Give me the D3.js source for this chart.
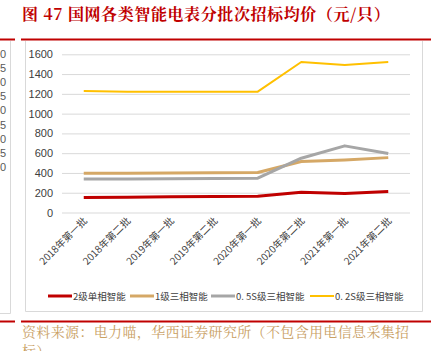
<!DOCTYPE html>
<html>
<head>
<meta charset="utf-8">
<script src="https://cdn.jsdelivr.net/npm/d3@7"></script>
<style>
  body { margin: 0; background: #fff; }
  svg { display: block; }
</style>
</head>
<body>
<div id="chart"></div>
<script>
// Données
const batches = ["2018年第一批", "2018年第二批", "2019年第一批", "2019年第二批",
                 "2020年第一批", "2020年第二批", "2021年第一批", "2021年第二批"];
const single2 = [152, 155, 160, 163, 165, 206, 192, 212];     // 2级单相智能
const three1 = [398, 398, 400, 402, 404, 515, 532, 555];      // 1级三相智能
const three05S = [338, 340, 342, 345, 347, 549, 674, 596];    // 0.5S级三相智能
const three02S = [1230, 1222, 1222, 1222, 1222, 1522, 1492, 1522]; // 0.2S级三相智能
const yTicks = [0, 200, 400, 600, 800, 1000, 1200, 1400, 1600];
// chiffres visibles du panneau voisin (coupé à gauche)
const leftPanelTicks = ["0", "5", "0", "5", "0", "5", "0", "5", "0"];

const series = [
    { label: "2级单相智能", values: single2, col: "#C00000", w: 3 },
    { label: "1级三相智能", values: three1, col: "#D5A866", w: 3 },
    { label: "0. 5S级三相智能", values: three05S, col: "#A6A6A6", w: 3 },
    { label: "0. 2S级三相智能", values: three02S, col: "#FFC000", w: 2 }
];

const W = 436, H = 351;
const svg = d3.select("#chart").append("svg")
    .attr("width", W).attr("height", H)
    .attr("viewBox", [0, 0, W, H]);

const cjk = "'Noto Sans CJK SC', 'Noto Sans', sans-serif";
const red = "#C00000";

// titre
svg.append("text")
    .attr("x", 22).attr("y", 20)
    .attr("fill", red)
    .attr("font-family", "'Noto Serif CJK SC', " + cjk)
    .attr("font-weight", "bold")
    .attr("font-size", "16px")
    .attr("letter-spacing", "0.6px")
    .text("图 47 国网各类智能电表分批次招标均价（元/只）");

// traits rouges haut et bas
[39.5, 321.5].forEach(y => {
    svg.append("line").attr("x1", 0).attr("x2", 15).attr("y1", y).attr("y2", y)
        .attr("stroke", red).attr("stroke-width", 2);
    svg.append("line").attr("x1", 21).attr("x2", 431).attr("y1", y).attr("y2", y)
        .attr("stroke", red).attr("stroke-width", 2);
});

// panneau gauche coupé
svg.append("path")
    .attr("d", "M10.5,41 V313.5 H0")
    .attr("fill", "none").attr("stroke", "#D9D9D9");
svg.selectAll(".lp")
    .data(leftPanelTicks)
    .join("text")
    .attr("class", "lp")
    .attr("x", 0)
    .attr("y", (d, i) => 58 + i * 14.1)
    .attr("font-family", "'Liberation Sans', sans-serif")
    .attr("font-size", "11px")
    .attr("fill", "#595959")
    .text(d => d);

// cadre du graphique
svg.append("path")
    .attr("d", "M25.5,41 V311.5 H422.5 V41")
    .attr("fill", "none").attr("stroke", "#D9D9D9");

// échelles
const x = d3.scaleBand().domain(batches).range([62, 410]);
const y = d3.scaleLinear().domain([0, 1600]).range([212.5, 54.3]);

// axe Y + grille
svg.append("g")
    .attr("transform", "translate(62,0)")
    .call(d3.axisLeft(y).tickValues(yTicks).tickFormat(d3.format("d")).tickSize(0).tickPadding(9))
    .call(g => g.select(".domain").remove())
    .call(g => g.selectAll("text")
        .attr("fill", "#404040")
        .attr("font-family", "'Liberation Sans', sans-serif")
        .attr("font-size", "11px"))
    .call(g => g.selectAll(".tick line").clone()
        .attr("x2", 348)
        .attr("stroke", "#D9D9D9"));

// axe X
svg.append("g")
    .attr("transform", "translate(0,212.5)")
    .call(d3.axisBottom(x).tickSize(0).tickPadding(0))
    .call(g => g.select(".domain").remove())
    .call(g => g.selectAll("text")
        .attr("fill", "#404040")
        .attr("font-family", cjk)
        .attr("font-size", "10px")
        .attr("text-anchor", "end")
        .attr("dy", 0)
        .attr("transform", "translate(4,9) rotate(-45)"));

// lignes
const line = d3.line()
    .x((d, i) => x(batches[i]) + x.bandwidth() / 2)
    .y(d => y(d));

svg.selectAll(".serie")
    .data(series)
    .join("path")
    .attr("class", "serie")
    .attr("d", d => line(d.values))
    .attr("fill", "none")
    .attr("stroke", d => d.col)
    .attr("stroke-width", d => d.w)
    .attr("stroke-linejoin", "round");

// légende
const legX = [48, 130, 211, 310];
const legend = svg.selectAll(".legend")
    .data(series)
    .join("g")
    .attr("class", "legend")
    .attr("transform", (d, i) => `translate(${legX[i]}, 296)`);

legend.append("line")
    .attr("x1", 0).attr("x2", 24)
    .attr("stroke", d => d.col)
    .attr("stroke-width", d => d.w);

legend.append("text")
    .attr("x", 25).attr("y", 3.5)
    .attr("font-family", cjk)
    .attr("font-size", "9.5px")
    .attr("fill", "#404040")
    .text(d => d.label);

// source
const src = svg.append("text")
    .attr("x", 22).attr("y", 337)
    .attr("fill", "#C9A063")
    .attr("font-family", "'Noto Serif CJK SC', " + cjk)
    .attr("font-size", "14px")
    .attr("letter-spacing", "0.35px");
src.append("tspan").text("资料来源：电力喵，华西证券研究所（不包含用电信息采集招");
src.append("tspan").attr("x", 22).attr("dy", 19).text("标）");
</script>
</body>
</html>
